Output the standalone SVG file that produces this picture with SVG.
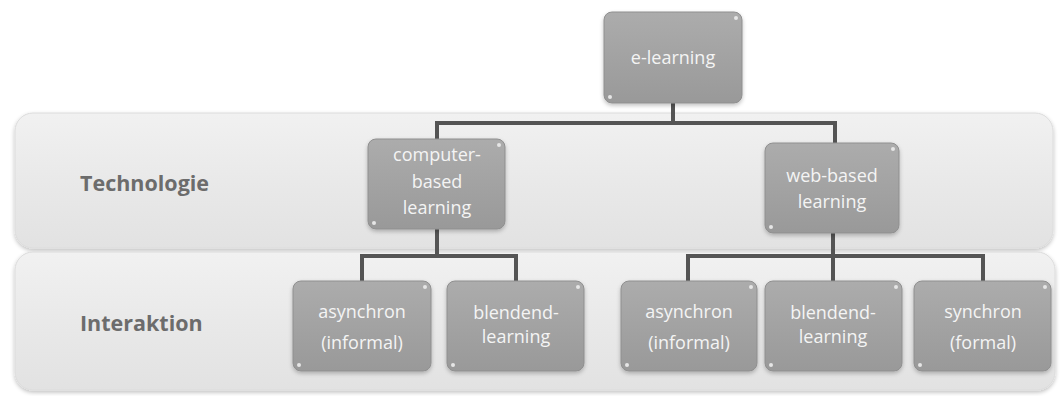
<svg xmlns="http://www.w3.org/2000/svg" width="1063" height="396" viewBox="0 0 1063 396">
  <defs>
    <linearGradient id="bandFill" x1="0" y1="0" x2="0" y2="1">
      <stop offset="0" stop-color="#f1f1f1"/>
      <stop offset="0.5" stop-color="#e9e9e9"/>
      <stop offset="1" stop-color="#e2e2e2"/>
    </linearGradient>
    <linearGradient id="boxFill" x1="0" y1="0" x2="0" y2="1">
      <stop offset="0" stop-color="#acacac"/>
      <stop offset="1" stop-color="#999999"/>
    </linearGradient>
    <filter id="soft" x="-5%" y="-5%" width="110%" height="115%">
      <feGaussianBlur in="SourceAlpha" stdDeviation="2"/>
      <feOffset dx="0" dy="2" result="b"/>
      <feComponentTransfer><feFuncA type="linear" slope="0.25"/></feComponentTransfer>
      <feMerge><feMergeNode/><feMergeNode in="SourceGraphic"/></feMerge>
    </filter>
  </defs>
  <style>
    .band { fill: url(#bandFill); stroke: #dcdcdc; stroke-width: 1; }
    .bandLabel { font-family: "Open Sans", "Liberation Sans", sans-serif; font-weight: bold; font-size: 21.5px; fill: #6c6c6c; }
    .box { fill: url(#boxFill); stroke: #8f8f8f; stroke-width: 1; }
    .dot { fill: #e6e6e6; }
    .label { font-family: "Open Sans", "Liberation Sans", sans-serif; font-size: 18px; fill: #f4f4f4; text-anchor: middle; }
    .wire { fill: none; stroke: #545454; stroke-width: 4; stroke-linejoin: miter; }
  </style>

  <rect width="1063" height="396" fill="#ffffff"/>

  <!-- layer bands -->
  <g id="band-technologie">
    <rect class="band" x="15" y="113" width="1038" height="135" rx="18" filter="url(#soft)"/>
    <text class="bandLabel" x="80" y="191">Technologie</text>
  </g>
  <g id="band-interaktion">
    <rect class="band" x="15" y="252" width="1040" height="138" rx="18" filter="url(#soft)"/>
    <text class="bandLabel" x="80" y="331">Interaktion</text>
  </g>

  <!-- connectors -->
  <g id="connectors">
    <path class="wire" d="M673 103 V123 M437 139 V123 H835 V143"/>
    <path class="wire" d="M437 229 V256 M362 281 V256 H516 V281"/>
    <path class="wire" d="M833 233 V256 M688 281 V256 H983 V281 M833 256 V281"/>
  </g>

  <!-- nodes -->
  <g id="node-e-learning">
    <rect class="box" x="604" y="12" width="138" height="91" rx="8" filter="url(#soft)"/>
    <circle class="dot" cx="736" cy="18" r="2"/><circle class="dot" cx="610" cy="97" r="2"/>
    <text class="label" x="673" y="64">e-learning</text>
  </g>
  <g id="node-computer-based">
    <rect class="box" x="368" y="139" width="137" height="90" rx="8" filter="url(#soft)"/>
    <circle class="dot" cx="499" cy="145" r="2"/><circle class="dot" cx="374" cy="223" r="2"/>
    <text class="label" x="437" y="161">computer-</text>
    <text class="label" x="437" y="188">based</text>
    <text class="label" x="437" y="214">learning</text>
  </g>
  <g id="node-web-based">
    <rect class="box" x="765" y="143" width="134" height="90" rx="8" filter="url(#soft)"/>
    <circle class="dot" cx="893" cy="149" r="2"/><circle class="dot" cx="771" cy="227" r="2"/>
    <text class="label" x="832" y="182">web-based</text>
    <text class="label" x="832" y="208">learning</text>
  </g>
  <g id="node-asynchron-1">
    <rect class="box" x="293" y="281" width="138" height="90" rx="8" filter="url(#soft)"/>
    <circle class="dot" cx="425" cy="287" r="2"/><circle class="dot" cx="299" cy="365" r="2"/>
    <text class="label" x="362" y="318">asynchron</text>
    <text class="label" x="362" y="349">(informal)</text>
  </g>
  <g id="node-blended-1">
    <rect class="box" x="447" y="281" width="137" height="90" rx="8" filter="url(#soft)"/>
    <circle class="dot" cx="578" cy="287" r="2"/><circle class="dot" cx="453" cy="365" r="2"/>
    <text class="label" x="516" y="319">blendend-</text>
    <text class="label" x="516" y="343">learning</text>
  </g>
  <g id="node-asynchron-2">
    <rect class="box" x="621" y="281" width="136" height="90" rx="8" filter="url(#soft)"/>
    <circle class="dot" cx="751" cy="287" r="2"/><circle class="dot" cx="627" cy="365" r="2"/>
    <text class="label" x="689" y="318">asynchron</text>
    <text class="label" x="689" y="349">(informal)</text>
  </g>
  <g id="node-blended-2">
    <rect class="box" x="765" y="281" width="137" height="90" rx="8" filter="url(#soft)"/>
    <circle class="dot" cx="896" cy="287" r="2"/><circle class="dot" cx="771" cy="365" r="2"/>
    <text class="label" x="833" y="319">blendend-</text>
    <text class="label" x="833" y="343">learning</text>
  </g>
  <g id="node-synchron">
    <rect class="box" x="914" y="281" width="137" height="90" rx="8" filter="url(#soft)"/>
    <circle class="dot" cx="1045" cy="287" r="2"/><circle class="dot" cx="920" cy="365" r="2"/>
    <text class="label" x="983" y="318">synchron</text>
    <text class="label" x="983" y="349">(formal)</text>
  </g>
</svg>
